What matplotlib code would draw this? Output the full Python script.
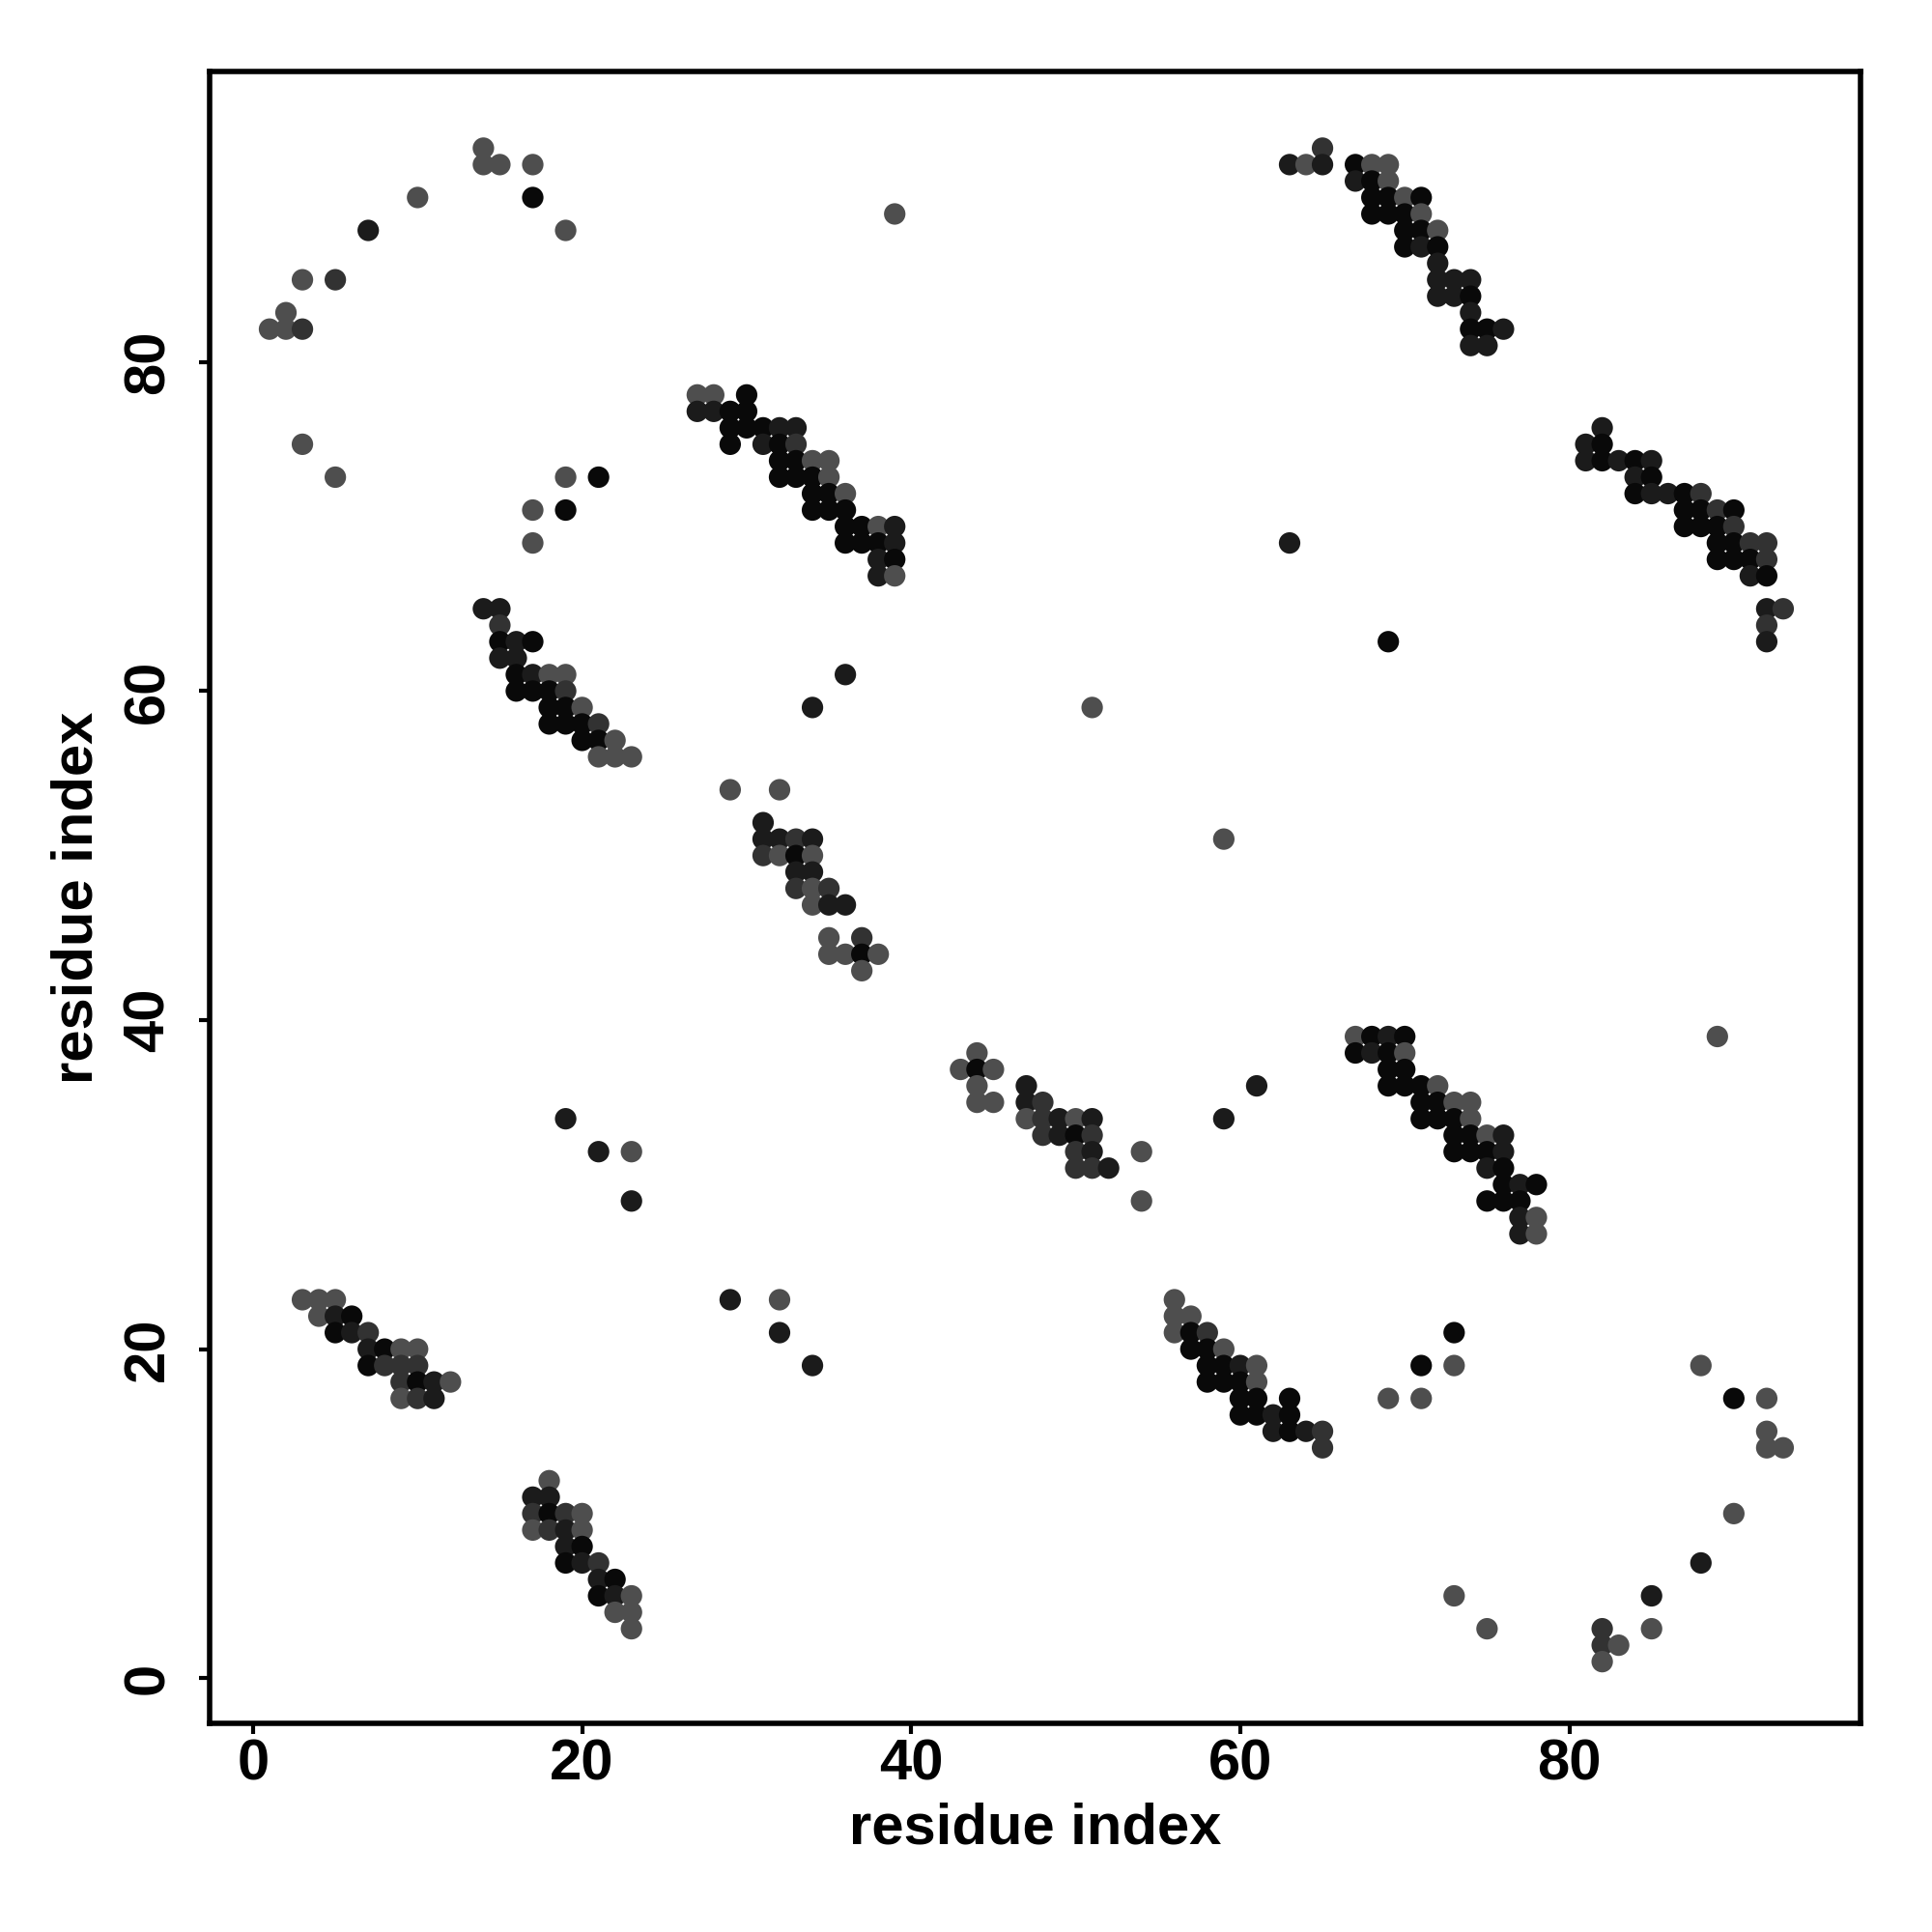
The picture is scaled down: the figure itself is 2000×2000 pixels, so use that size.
import matplotlib.pyplot as plt
from matplotlib.colors import LinearSegmentedColormap

# contact probability levels
B, D, K, M = 0.95, 0.75, 0.5, 0.2

# (residue i, residue j, probability)
sparse_top_left = [
    (14, 93, M), (14, 92, M), (15, 92, M), (17, 92, M), (10, 90, M), (17, 90, B),
    (7, 88, D), (19, 88, M), (3, 85, M), (5, 85, K), (2, 83, M), (1, 82, M),
    (2, 82, M), (3, 82, K), (3, 75, M), (5, 73, M), (19, 73, M), (21, 73, B),
    (17, 71, M), (19, 71, B), (17, 69, M),
]
block_14_65 = [
    (14, 65, D), (15, 65, D), (15, 64, K), (15, 63, B), (16, 63, D), (17, 63, B),
    (15, 62, D), (16, 62, D), (16, 61, B), (17, 61, D), (18, 61, M), (19, 61, M),
    (16, 60, B), (17, 60, B), (18, 60, B), (19, 60, K), (18, 59, B), (19, 59, B),
    (20, 59, M), (18, 58, B), (19, 58, B), (20, 58, B), (21, 58, K), (20, 57, B),
    (21, 57, B), (22, 57, M), (21, 56, M), (22, 56, M), (23, 56, M),
]
block_27_78 = [
    (27, 78, M), (28, 78, M), (30, 78, B),
    (27, 77, D), (28, 77, D), (29, 77, B), (30, 77, B),
    (29, 76, B), (30, 76, B), (31, 76, B), (32, 76, D), (33, 76, D),
    (29, 75, B), (31, 75, D), (32, 75, B), (33, 75, K),
    (32, 74, B), (33, 74, B), (34, 74, M), (35, 74, M),
    (32, 73, B), (33, 73, B), (34, 73, B), (35, 73, M),
    (34, 72, B), (35, 72, B), (36, 72, M),
    (34, 71, B), (35, 71, B), (36, 71, B),
    (36, 70, B), (37, 70, B), (38, 70, M), (39, 70, D),
    (36, 69, B), (37, 69, B), (38, 69, B), (39, 69, D),
    (38, 68, D), (39, 68, B), (38, 67, D), (39, 67, M),
]
sparse_middle = [
    (39, 89, M), (36, 61, D), (34, 59, D), (51, 59, M), (29, 54, M), (32, 54, M),
    (59, 51, M), (63, 69, D), (69, 63, B), (89, 39, M),
    (19, 34, D), (21, 32, D), (23, 32, M), (23, 29, D), (29, 23, D), (32, 23, M),
    (32, 21, D), (34, 19, D), (54, 32, M), (54, 29, M), (61, 36, D), (59, 34, D),
]
block_31_52 = [
    (31, 52, D), (31, 51, D), (32, 51, D), (33, 51, K), (34, 51, D),
    (31, 50, K), (32, 50, M), (33, 50, B), (34, 50, M),
    (33, 49, D), (34, 49, D), (33, 48, K), (34, 48, M), (35, 48, K),
    (34, 47, M), (35, 47, D), (36, 47, D), (35, 45, M), (37, 45, K),
    (35, 44, M), (36, 44, M), (37, 44, B), (38, 44, M), (37, 43, M),
]
block_43_38 = [
    (44, 38, M), (43, 37, M), (44, 37, B), (45, 37, M), (44, 36, M), (44, 35, M),
    (45, 35, M),
    (47, 36, D), (47, 35, D), (48, 35, K), (47, 34, M), (48, 34, K), (49, 34, D),
    (50, 34, M), (51, 34, D), (48, 33, K), (49, 33, D), (50, 33, B), (51, 33, K),
    (50, 32, K), (51, 32, D), (50, 31, K), (51, 31, K), (52, 31, D),
]
block_3_23 = [
    (3, 23, M), (4, 23, M), (5, 23, M), (4, 22, M), (5, 22, D), (6, 22, B),
    (5, 21, B), (6, 21, D), (7, 21, K), (7, 20, D), (8, 20, B), (9, 20, M),
    (10, 20, M), (7, 19, B), (8, 19, K), (9, 19, K), (10, 19, K), (9, 18, K),
    (10, 18, B), (11, 18, D), (12, 18, M), (9, 17, M), (10, 17, K), (11, 17, D),
]
block_17_12 = [
    (18, 12, M), (17, 11, D), (18, 11, D), (17, 10, K), (18, 10, B), (19, 10, K),
    (20, 10, M), (17, 9, M), (18, 9, K), (19, 9, D), (20, 9, M), (19, 8, D),
    (20, 8, B), (19, 7, B), (20, 7, D), (21, 7, K), (21, 6, D), (22, 6, B),
    (21, 5, B), (22, 5, D), (23, 5, M), (22, 4, M), (23, 4, M), (23, 3, M),
]
block_56_23 = [
    (56, 23, M), (56, 22, M), (57, 22, M), (56, 21, M), (57, 21, B), (58, 21, K),
    (57, 20, B), (58, 20, B), (59, 20, M), (58, 19, B), (59, 19, B), (60, 19, D),
    (61, 19, M), (58, 18, B), (59, 18, B), (60, 18, B), (61, 18, M), (60, 17, B),
    (61, 17, B), (63, 17, B), (60, 16, B), (61, 16, B), (62, 16, D), (63, 16, B),
    (62, 15, D), (63, 15, B), (64, 15, D), (65, 15, K), (65, 14, K),
]
block_67_39 = [
    (67, 39, M), (68, 39, B), (69, 39, D), (70, 39, B),
    (67, 38, B), (68, 38, D), (69, 38, B), (70, 38, M),
    (69, 37, B), (70, 37, B),
    (69, 36, B), (70, 36, B), (71, 36, B), (72, 36, M),
    (71, 35, B), (72, 35, B), (73, 35, M), (74, 35, M),
    (71, 34, B), (72, 34, B), (73, 34, B), (74, 34, M),
    (73, 33, B), (74, 33, B), (75, 33, M), (76, 33, D),
    (73, 32, B), (74, 32, B), (75, 32, B), (76, 32, D),
    (75, 31, D), (76, 31, B), (76, 30, B), (77, 30, D), (78, 30, B),
    (75, 29, B), (76, 29, B), (77, 29, B),
    (77, 28, D), (78, 28, M), (77, 27, D), (78, 27, M),
]
block_63_93 = [
    (63, 92, D), (64, 92, M), (65, 93, K), (65, 92, D),
    (67, 92, B), (68, 92, M), (69, 92, M),
    (67, 91, D), (68, 91, B), (69, 91, M),
    (68, 90, B), (69, 90, B), (70, 90, M), (71, 90, B),
    (68, 89, B), (69, 89, B), (70, 89, B), (71, 89, M),
    (70, 88, B), (71, 88, B), (72, 88, M),
    (70, 87, B), (71, 87, D), (72, 87, B), (72, 86, D),
    (72, 85, D), (73, 85, D), (74, 85, D),
    (72, 84, D), (73, 84, D), (74, 84, B), (74, 83, D),
    (74, 82, B), (75, 82, B), (76, 82, D), (74, 81, D), (75, 81, D),
]
block_81_76 = [
    (82, 76, D), (81, 75, D), (82, 75, B),
    (81, 74, D), (82, 74, B), (83, 74, D), (84, 74, B), (85, 74, D),
    (84, 73, D), (85, 73, B),
    (84, 72, B), (85, 72, D), (86, 72, D), (87, 72, B), (88, 72, K),
    (87, 71, B), (88, 71, B), (89, 71, K), (90, 71, B),
    (87, 70, B), (88, 70, B), (89, 70, B), (90, 70, K),
    (89, 69, B), (90, 69, B), (91, 69, K), (92, 69, K),
    (89, 68, B), (90, 68, B), (91, 68, B), (92, 68, K),
    (91, 67, D), (92, 67, B),
    (92, 65, D), (93, 65, K), (92, 64, K), (92, 63, D),
]
sparse_bottom_right = [
    (73, 21, B), (71, 19, B), (73, 19, M), (69, 17, M), (71, 17, M),
    (88, 19, M), (90, 17, B), (92, 17, M), (92, 15, M), (92, 14, M), (93, 14, M),
    (90, 10, M), (88, 7, D), (85, 5, D), (85, 3, M), (73, 5, M), (75, 3, M),
    (82, 3, K), (82, 2, K), (83, 2, M), (82, 1, M),
]

groups = [sparse_top_left, block_14_65, block_27_78, sparse_middle, block_31_52,
          block_43_38, block_3_23, block_17_12, block_56_23, block_67_39,
          block_63_93, block_81_76, sparse_bottom_right]
res_i = [c[0] for g in groups for c in g]
res_j = [c[1] for g in groups for c in g]
prob = [c[2] for g in groups for c in g]

plt.rcParams['font.family'] = ['Liberation Sans', 'DejaVu Sans']
plt.rcParams['font.weight'] = 'bold'

grey = LinearSegmentedColormap.from_list('grey', ['#606060', '#050505'])

fig = plt.figure(figsize=(10, 10), dpi=200)
ax = fig.add_axes([0.1085, 0.108, 0.8545, 0.855])
ax.scatter(res_i, res_j, c=prob, cmap=grey, vmin=0, vmax=1, s=64, linewidths=0)

ax.set_xlim(-2.64, 97.7)
ax.set_ylim(-2.75, 97.66)
ax.set_xticks([0, 20, 40, 60, 80])
ax.set_yticks([0, 20, 40, 60, 80])
ax.set_yticklabels(['0', '20', '40', '60', '80'], rotation=90, va='center')
for s in ax.spines.values():
    s.set_linewidth(2)
ax.tick_params(axis='both', labelsize=21.5, width=1.5, length=4)
ax.tick_params(axis='x', pad=1.5)
ax.tick_params(axis='y', pad=8.8)
ax.set_xlabel('residue index', fontsize=21.5, fontweight='bold', labelpad=4)
ax.set_ylabel('residue index', fontsize=21.5, fontweight='bold', labelpad=6.8)

fig.savefig('out.png', dpi=200)
